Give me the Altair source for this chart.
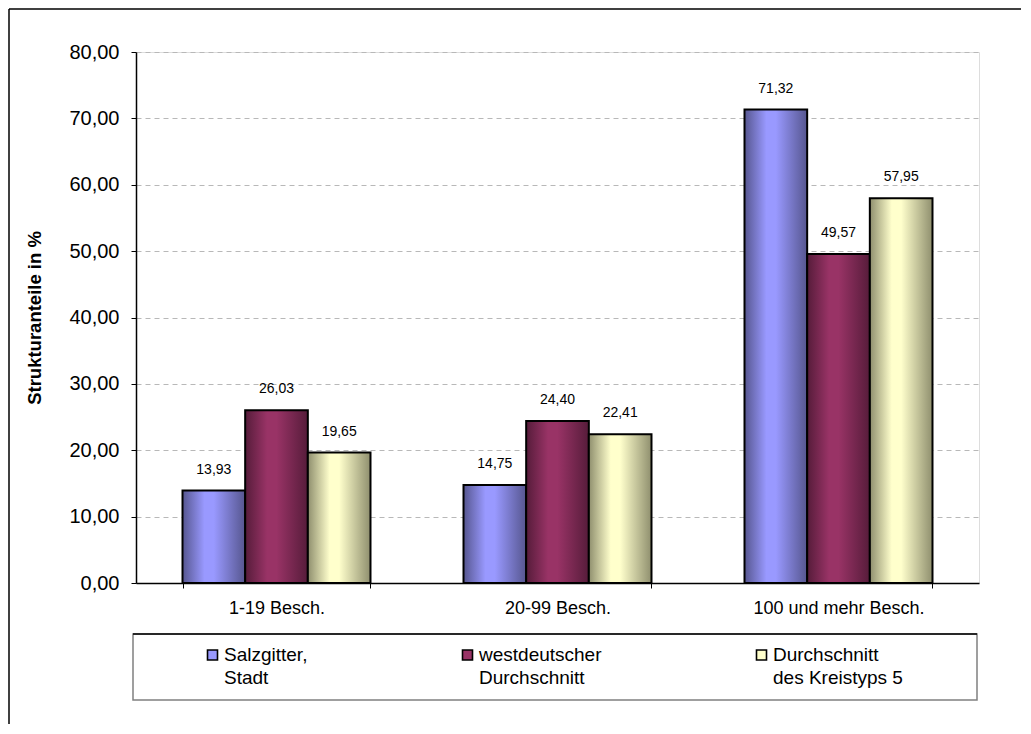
import altair as alt
import pandas as pd

categories = ["1-19 Besch.", "20-99 Besch.", "100 und mehr Besch."]
series = ["Salzgitter, Stadt", "westdeutscher Durchschnitt", "Durchschnitt des Kreistyps 5"]
salzgitter = [13.93, 14.75, 71.32]
westdeutsch = [26.03, 24.40, 49.57]
kreistyp = [19.65, 22.41, 57.95]
y_ticks = [0, 10, 20, 30, 40, 50, 60, 70, 80]

light = ["#9999ff", "#993366", "#ffffcc"]
dark = ["#56568f", "#561c3a", "#8f8f6e"]

rows = []
for s, vals in zip(series, [salzgitter, westdeutsch, kreistyp]):
    for c, v in zip(categories, vals):
        rows.append({"category": c, "series": s, "value": v})
df = pd.DataFrame(rows)

FONT = "Liberation Sans"

x_enc = alt.X(
    "category:N", sort=categories,
    scale=alt.Scale(domain=categories, paddingInner=0.331, paddingOuter=0.1655),
    axis=alt.Axis(title=None, labelAngle=0, tickBand="extent", labelFontSize=18,
                  labelFont=FONT, labelColor="black", labelPadding=11, tickSize=5,
                  tickColor="black", domainColor="black", domainWidth=1.5, grid=False),
)
xoff_enc = alt.XOffset("series:N", sort=series,
                       scale=alt.Scale(domain=series, paddingInner=0, paddingOuter=0))
y_enc = alt.Y(
    "value:Q",
    scale=alt.Scale(domain=[0, 80], nice=False),
    axis=alt.Axis(values=y_ticks,
                  labelExpr="replace(format(datum.value, '.2f'), '.', ',')",
                  title="Strukturanteile in %", titleFont=FONT, titleFontSize=18.5,
                  titleFontWeight="bold", titleColor="black", titlePadding=24,
                  labelFont=FONT, labelFontSize=20, labelColor="black", labelPadding=12,
                  tickSize=5, tickColor="black", domainColor="black", domainWidth=1.5,
                  grid=True, gridDash=[5, 4], gridColor="#b8b8b8"),
)

base = alt.Chart(df)

bar_layers = []
for i, s in enumerate(series):
    grad = alt.Gradient(
        gradient="linear", x1=0, x2=1, y1=0, y2=0,
        stops=[
            alt.GradientStop(offset=0, color=dark[i]),
            alt.GradientStop(offset=0.35, color=light[i]),
            alt.GradientStop(offset=0.5, color=light[i]),
            alt.GradientStop(offset=1, color=dark[i]),
        ],
    )
    bar_layers.append(
        base.transform_filter(alt.datum.series == s)
        .mark_bar(fill=grad, stroke="black", strokeWidth=2)
        .encode(x=x_enc, xOffset=xoff_enc, y=y_enc)
    )

labels = (
    base.transform_calculate(label="replace(format(datum.value, '.2f'), '.', ',')")
    .mark_text(baseline="alphabetic", dy=-17, fontSize=14, font=FONT, color="black")
    .encode(x=x_enc, xOffset=xoff_enc, y=y_enc, text="label:N")
)

legend_box = alt.Chart(pd.DataFrame({"a": [0]})).mark_rect(
    fill="white", stroke="#808080", strokeWidth=1.5
).encode(x=alt.value(-3), x2=alt.value(841), y=alt.value(582), y2=alt.value(648))

legend_top = alt.Chart(pd.DataFrame({"a": [0]})).mark_rule(
    color="black", strokeWidth=1.5
).encode(x=alt.value(-3), x2=alt.value(841), y=alt.value(582))

legend_dummy = base.mark_square(opacity=0, size=1).encode(
    x=x_enc, xOffset=xoff_enc, y=y_enc,
    color=alt.Color(
        "series:N", sort=series,
        scale=alt.Scale(domain=series, range=light),
        legend=alt.Legend(
            orient="none", legendX=67, legendY=593.5, direction="horizontal",
            columns=3, title=None, symbolType="square", symbolSize=100,
            symbolStrokeColor="black", symbolStrokeWidth=1.6, symbolOpacity=1,
            labelFont=FONT, labelFontSize=19, labelColor="black",
            labelOffset=2,
            columnPadding=150, padding=0, labelLimit=400, gridAlign="none",
            labelBaseline="middle",
            labelExpr="[substring(datum.label, 0, indexof(datum.label, ' ')), "
                      "substring(datum.label, indexof(datum.label, ' ') + 1)]",
        ),
    ),
)

frame_left = alt.Chart(pd.DataFrame({"a": [0]})).mark_rule(
    color="black", strokeWidth=1.5
).encode(x=alt.value(-127), y=alt.value(-43), y2=alt.value(672))

frame_top = alt.Chart(pd.DataFrame({"a": [0]})).mark_rule(
    color="black", strokeWidth=1.5
).encode(x=alt.value(-127), x2=alt.value(885), y=alt.value(-43))

chart = (
    alt.layer(frame_left, frame_top, legend_box, legend_top, *bar_layers, labels, legend_dummy)
    .properties(width=843, height=531,
                padding={"left": 0, "top": 0, "right": 0, "bottom": 0},
                background="white")
    .configure_view(stroke="#808080", strokeWidth=2)
    .configure(style={"guide-label": {"lineHeight": 23}})
)

chart.save("out.html", embed_options={"renderer": "svg", "actions": False})
